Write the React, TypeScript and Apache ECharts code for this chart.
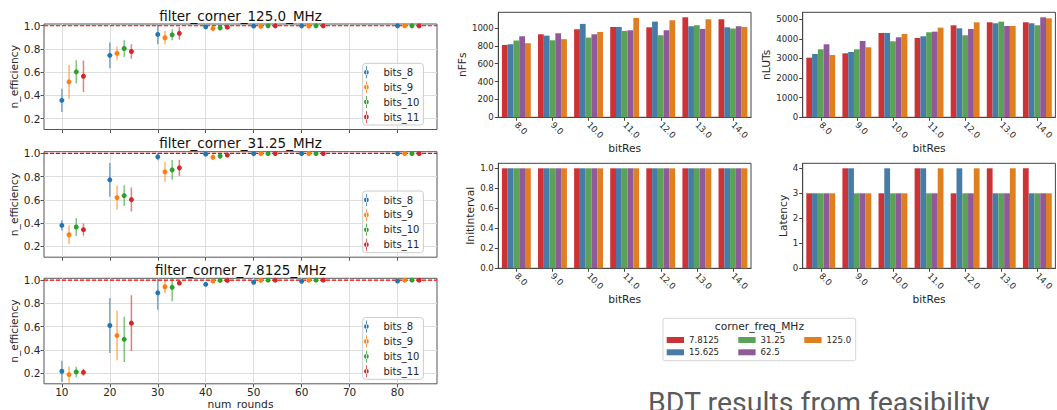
import React, { useEffect, useRef } from "react";
import * as echarts from "echarts";

// ---------- left: efficiency vs rounds ----------
const rounds = [10, 20, 30, 40, 50, 60, 80];
const roundTicks = [10, 20, 30, 40, 50, 60, 70, 80];
const effTicks = [0.2, 0.4, 0.6, 0.8, 1.0];
const targetEff = [1.0];
const bitNames = ["bits_8", "bits_9", "bits_10", "bits_11"];
const bitOffsets = [0, 1.5, 3, 4.5];
const bitColors = ["#1f77b4", "#ff7f0e", "#2ca02c", "#d62728"];
const panelTitles = ["filter_corner_125.0_MHz", "filter_corner_31.25_MHz", "filter_corner_7.8125_MHz"];

const eff125 = [
  [0.358, 0.745, 0.925, 0.99, 0.997, 0.999, 0.999],
  [0.517, 0.762, 0.897, 0.977, 0.994, 0.998, 0.999],
  [0.603, 0.804, 0.922, 0.981, 0.999, 0.999, 0.999],
  [0.565, 0.778, 0.935, 0.988, 0.999, 0.999, 0.999],
];
const err125 = [
  [0.1, 0.11, 0.085, 0.01, 0.004, 0.003, 0.002],
  [0.145, 0.06, 0.058, 0.025, 0.01, 0.004, 0.002],
  [0.1, 0.072, 0.047, 0.02, 0.004, 0.003, 0.002],
  [0.135, 0.063, 0.055, 0.012, 0.003, 0.003, 0.002],
];
const eff3125 = [
  [0.381, 0.773, 0.971, 0.994, 0.998, 0.999, 0.999],
  [0.3, 0.62, 0.842, 0.968, 0.998, 0.999, 0.999],
  [0.367, 0.637, 0.859, 0.977, 0.999, 0.999, 0.999],
  [0.344, 0.603, 0.876, 0.986, 0.999, 0.999, 0.999],
];
const err3125 = [
  [0.045, 0.145, 0.03, 0.008, 0.004, 0.003, 0.002],
  [0.08, 0.105, 0.086, 0.025, 0.004, 0.003, 0.002],
  [0.078, 0.09, 0.085, 0.02, 0.004, 0.003, 0.002],
  [0.052, 0.103, 0.07, 0.015, 0.004, 0.003, 0.002],
];
const eff78125 = [
  [0.215, 0.609, 0.89, 0.963, 0.981, 0.989, 0.991],
  [0.186, 0.522, 0.942, 0.991, 0.998, 0.999, 0.999],
  [0.209, 0.49, 0.937, 0.997, 0.999, 0.999, 0.999],
  [0.206, 0.629, 0.974, 0.997, 0.999, 0.999, 0.999],
];
const err78125 = [
  [0.09, 0.237, 0.145, 0.01, 0.008, 0.006, 0.005],
  [0.07, 0.213, 0.055, 0.008, 0.004, 0.003, 0.002],
  [0.045, 0.195, 0.12, 0.004, 0.003, 0.003, 0.002],
  [0.03, 0.24, 0.015, 0.004, 0.003, 0.003, 0.002],
];

// ---------- right: resources vs bitRes ----------
const bitRes = ["8.0", "9.0", "10.0", "11.0", "12.0", "13.0", "14.0"];
const cornerFreqs = ["7.8125", "15.625", "31.25", "62.5", "125.0"];
const freqColors = ["#cb3335", "#477ca8", "#59a257", "#905998", "#df7f20"];
const nFFs = [
  [810, 929, 985, 1011, 1007, 1119, 1097],
  [818, 914, 1045, 1011, 1071, 1019, 1007],
  [859, 862, 892, 967, 918, 1030, 993],
  [907, 940, 929, 974, 974, 989, 1019],
  [829, 874, 955, 1112, 1086, 1097, 1011],
];
const nLUTs = [
  [3044, 3265, 4303, 4048, 4694, 4847, 4847],
  [3231, 3333, 4303, 4133, 4541, 4796, 4796],
  [3469, 3469, 3878, 4337, 4184, 4881, 4694],
  [3724, 3895, 4082, 4371, 4507, 4660, 5102],
  [3180, 3571, 4252, 4575, 4847, 4660, 5051],
];
const initInterval = [
  [1, 1, 1, 1, 1, 1, 1],
  [1, 1, 1, 1, 1, 1, 1],
  [1, 1, 1, 1, 1, 1, 1],
  [1, 1, 1, 1, 1, 1, 1],
  [1, 1, 1, 1, 1, 1, 1],
];
const latency = [
  [3, 4, 3, 4, 3, 4, 4],
  [3, 4, 4, 4, 4, 3, 3],
  [3, 3, 3, 3, 3, 3, 3],
  [3, 3, 3, 3, 3, 3, 3],
  [3, 3, 3, 4, 4, 4, 3],
];
const nFFsTicks = [0, 200, 400, 600, 800, 1000];
const nLUTsTicks = [0, 1000, 2000, 3000, 4000, 5000];
const iiTicks = [0, 0.2, 0.4, 0.6, 0.8, 1.0];
const latTicks = [0, 1, 2, 3, 4];

const FONT = "DejaVu Sans";
const TXT = "#262626";
const ERR_ICON =
  "path://M2.55,0L3.45,0L3.45,14L2.55,14Z M0.2,7A2.8,2.8,0,1,0,5.8,7A2.8,2.8,0,1,0,0.2,7Z";

function buildOption(): any {
  const effPanels = [eff125, eff3125, eff78125];
  const errPanels = [err125, err3125, err78125];
  const leftTops = [24, 151.7, 278.3];
  const titleYs = [16, 143, 270];
  const LH = 105.5;
  const span = rounds[rounds.length - 1] + bitOffsets[3] - rounds[0];
  const xLo = rounds[0] - 0.05 * span;
  const xHi = rounds[rounds.length - 1] + bitOffsets[3] + 0.05 * span;

  const grid: any[] = [];
  const xAxis: any[] = [];
  const yAxis: any[] = [];
  const series: any[] = [];
  const legend: any[] = [];
  const graphic: any[] = [];

  // left panels
  leftTops.forEach((top, p) => {
    grid.push({
      left: 44, top, width: 393, height: LH,
      show: true, borderColor: "#555", borderWidth: 1, backgroundColor: "transparent",
      outerBoundsMode: "none", containLabel: false,
    });
    xAxis.push({
      type: "value", gridIndex: p, min: xLo, max: xHi,
      axisLine: { show: false },
      axisTick: { show: true, length: 3.5, customValues: roundTicks, lineStyle: { color: "#555" } },
      axisLabel: {
        show: p === 2, customValues: roundTicks, fontSize: 10.5, fontFamily: FONT, color: TXT, margin: 3,
      },
      splitLine: { show: true, lineStyle: { color: "#dedede", width: 1 } },
      name: p === 2 ? "num_rounds" : "",
      nameLocation: "middle", nameGap: 15,
      nameTextStyle: { fontSize: 10.7, fontFamily: FONT, color: TXT },
    });
    yAxis.push({
      type: "value", gridIndex: p, min: 0.107, max: 1.015,
      axisLine: { show: false },
      axisTick: { show: true, length: 3.5, customValues: effTicks, lineStyle: { color: "#555" } },
      axisLabel: {
        customValues: effTicks, fontSize: 10.5, fontFamily: FONT, color: TXT, margin: 3.5,
        formatter: (v: number) => v.toFixed(1),
      },
      splitLine: { show: true, lineStyle: { color: "#dedede", width: 1 } },
      name: "n_efficiency", nameLocation: "middle", nameRotate: 90, nameGap: 20.5,
      nameTextStyle: { fontSize: 10.7, fontFamily: FONT, color: TXT },
    });
    // reference line at efficiency 1.0
    series.push({
      type: "line", name: "target", xAxisIndex: p, yAxisIndex: p,
      data: [[xLo, targetEff[0]], [xHi, targetEff[0]]],
      showSymbol: false, symbol: "none", silent: true, z: 5,
      lineStyle: { color: "#ff0000", type: [4, 2], width: 1.2, opacity: 1 },
    });
    bitNames.forEach((bn, b) => {
      const pts = rounds.map((r, i) => [r + bitOffsets[b], effPanels[p][b][i], errPanels[p][b][i]]);
      series.push({
        type: "custom", name: bn + "_err", xAxisIndex: p, yAxisIndex: p,
        data: pts, encode: { x: 0, y: 1 }, clip: true, z: 2, silent: true,
        renderItem: (params: any, api: any) => {
          const x = api.value(0), y = api.value(1), e = api.value(2);
          const a = api.coord([x, y - e]);
          const c = api.coord([x, y + e]);
          return {
            type: "line",
            shape: { x1: a[0], y1: a[1], x2: c[0], y2: c[1] },
            style: { stroke: bitColors[b], lineWidth: 1.5, opacity: 0.6 },
          };
        },
      });
      series.push({
        type: "scatter", name: bn, xAxisIndex: p, yAxisIndex: p,
        data: pts.map((q) => [q[0], q[1]]), symbol: "circle", symbolSize: 5,
        itemStyle: { color: bitColors[b], opacity: 1 }, z: 6,
      });
    });
    legend.push({
      orient: "vertical", left: 362.7, top: top + 39.3,
      data: bitNames.map((n) => ({ name: n, icon: ERR_ICON })),
      itemWidth: 24, itemHeight: 12, itemGap: 2.9,
      padding: [3, 4, 2, 1.3],
      borderColor: "#cccccc", borderWidth: 1, borderRadius: 3,
      backgroundColor: "rgba(255,255,255,0.85)",
      textStyle: { fontSize: 10, fontFamily: FONT, color: TXT, lineHeight: 12 },
    });
    graphic.push({
      type: "text", x: 44 + 393 / 2, y: titleYs[p],
      style: {
        text: panelTitles[p], font: `13.5px '${FONT}'`, fill: "#111",
        textAlign: "center", textVerticalAlign: "middle",
      },
    });
  });

  // right panels
  const metrics = [nFFs, nLUTs, initInterval, latency];
  const metricNames = ["nFFs", "nLUTs", "InitInterval", "Latency"];
  const metricTicks = [nFFsTicks, nLUTsTicks, iiTicks, latTicks];
  const nameGaps = [28, 26.5, 20, 11.5];
  const rLeft = [498.3, 802.7, 498.3, 802.7];
  const rTop = [12.3, 12.3, 163.3, 163.3];
  metrics.forEach((m, k) => {
    const g = 3 + k;
    grid.push({
      left: rLeft[k], top: rTop[k], width: 252.7, height: 105,
      show: true, borderColor: "#444", borderWidth: 1, backgroundColor: "transparent",
      outerBoundsMode: "none", containLabel: false,
    });
    const mx = Math.max(...m.map((s) => Math.max(...s))) * 1.05;
    xAxis.push({
      type: "category", gridIndex: g, data: bitRes, boundaryGap: true,
      axisLine: { show: true, lineStyle: { color: "#444" } },
      axisTick: { show: true, alignWithLabel: true, length: 3.5, lineStyle: { color: "#444" } },
      axisLabel: { rotate: -45, fontSize: 8.6, fontFamily: FONT, color: TXT, margin: 6, interval: 0 },
      splitLine: { show: false },
      name: "bitRes", nameLocation: "middle", nameGap: 25.7,
      nameTextStyle: { fontSize: 10.7, fontFamily: FONT, color: TXT },
    });
    yAxis.push({
      type: "value", gridIndex: g, min: 0, max: mx,
      axisLine: { show: true, lineStyle: { color: "#444" } },
      axisTick: { show: true, length: 3.5, customValues: metricTicks[k], lineStyle: { color: "#444" } },
      axisLabel: {
        customValues: metricTicks[k], fontSize: 8.6, fontFamily: FONT, color: TXT, margin: 4.5,
        formatter: (v: number) => (k === 2 ? v.toFixed(1) : String(Math.round(v))),
      },
      splitLine: { show: false },
      name: metricNames[k], nameLocation: "middle", nameRotate: 90, nameGap: nameGaps[k],
      nameTextStyle: { fontSize: 10.7, fontFamily: FONT, color: TXT },
    });
    cornerFreqs.forEach((f, h) => {
      series.push({
        type: "bar", name: f, xAxisIndex: g, yAxisIndex: g,
        data: m[h], barGap: "0%", barCategoryGap: "20%",
        itemStyle: { color: freqColors[h] }, silent: true,
      });
    });
  });

  // right legend (3 columns)
  const cols = [[0, 1], [2, 3], [4]];
  const colLefts = [666.7, 738.3, 804.3];
  cols.forEach((c, i) => {
    legend.push({
      orient: "vertical", left: colLefts[i], top: 335,
      data: c.map((h) => ({ name: cornerFreqs[h], icon: "rect" })),
      itemWidth: 17.3, itemHeight: 6, itemGap: 2.3, padding: 0,
      textStyle: { fontSize: 8.6, fontFamily: FONT, color: TXT, lineHeight: 10 },
    });
  });
  graphic.push({
    type: "rect", shape: { x: 663, y: 318.3, width: 192.7, height: 42.4, r: 2 },
    style: { fill: "#fff", stroke: "#d6d6d6", lineWidth: 1 }, z: -1,
  });
  graphic.push({
    type: "text", x: 759.4, y: 326,
    style: {
      text: "corner_freq_MHz", font: `10.7px '${FONT}'`, fill: TXT,
      textAlign: "center", textVerticalAlign: "middle",
    },
  });
  graphic.push({
    type: "text", x: 648, y: 388,
    style: {
      text: "BDT results from feasibility", font: "28.5px Roboto", fill: "#5a5a5a",
      textAlign: "left", textVerticalAlign: "top",
    },
  });

  return {
    animation: false,
    backgroundColor: "#fff",
    textStyle: { fontFamily: FONT },
    grid, xAxis, yAxis, series, legend, graphic,
  };
}

export default function App() {
  const ref = useRef<HTMLDivElement>(null);
  useEffect(() => {
    const chart = echarts.init(ref.current as HTMLDivElement, null, { renderer: "svg" });
    chart.setOption(buildOption());
    return () => chart.dispose();
  }, []);
  return (
    <div
      ref={ref}
      style={{ position: "absolute", left: 0, top: 0, width: 1057, height: 410 }}
    />
  );
}
